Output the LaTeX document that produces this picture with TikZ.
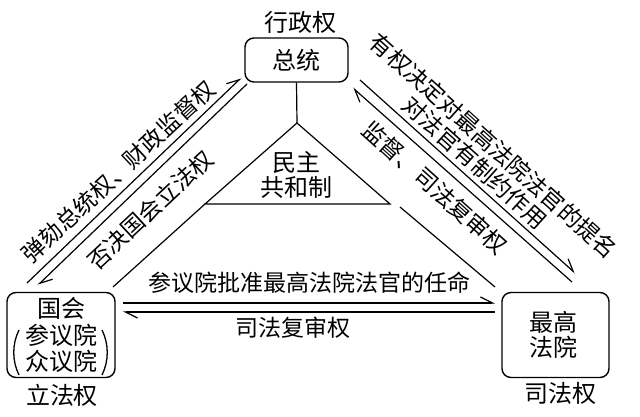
\documentclass[tikz,border=0pt]{standalone}
\usepackage{fontspec}
\newfontfamily\cjk{Noto Sans CJK SC}
\usetikzlibrary{arrows.meta}
\begin{document}
\begin{tikzpicture}[x=1pt,y=-1pt,
  box/.style={draw, line width=1.4pt, rounded corners=9pt, inner sep=0pt},
  lbl/.style={font=\cjk\fontsize{23}{25}\selectfont, inner sep=0pt},
  big/.style={font=\cjk\fontsize{24}{26.5}\selectfont, inner sep=0pt, align=center},
  ln/.style={line width=1.2pt},
  arr/.style={ln, -{Straight Barb[harpoon, length=12pt, width=12pt, line width=1.2pt]}},
  paren/.style={line width=1.3pt}
]
\useasboundingbox (0,0) rectangle (640,416);
\fill[white] (0,0) rectangle (640,416);
% boxes
\node[box, big, minimum width=103pt, minimum height=44pt] (pres) at (296.5,60) {总统};
\node[box, big, minimum width=108pt, minimum height=85pt] (cong) at (61,335) {国会\\参议院\\众议院};
\node[box, minimum width=107pt, minimum height=85pt] (court) at (555.5,335) {};
\node[big, font=\cjk\fontsize{24}{25}\selectfont] (courtt) at (553,335) {最高\\法院};
% titles
\node[big] (exec) at (300,22) {行政权};
\node[big] (leg) at (62,395) {立法权};
\node[big] (jud) at (560,393) {司法权};
% parentheses
\draw[paren] (19,330) .. controls (12,344) and (12,361) .. (19,375);
\draw[paren] (102,330) .. controls (109,344) and (109,361) .. (102,375);
% triangle
\coordinate (apex) at (297,123);
\coordinate (tl) at (205,204);
\coordinate (tr) at (390,204);
\draw[ln, line join=miter] (apex) -- (tl) -- (tr) -- cycle;
\draw[ln] (pres.south) -- (apex);
\node[big, font=\cjk\fontsize{24}{24.5}\selectfont] (demo) at (296,175) {民主\\共和制};
\coordinate (el) at (113,287);
\draw[ln] (tl) -- (el);
\coordinate (er0) at (400,207);
\coordinate (er) at (495,287);
\draw[ln] (er0) -- (er);
% arrows
\coordinate (lo1) at (27,283); \coordinate (lo2) at (241,78);
\draw[arr] (lo1) -- (lo2);
\coordinate (li1) at (247,84); \coordinate (li2) at (38,285);
\draw[arr] (li1) -- (li2);
\coordinate (ro1) at (360,80); \coordinate (ro2) at (575,273);
\draw[arr] (ro1) -- (ro2);
\coordinate (ri1) at (572,282); \coordinate (ri2) at (353,88);
\draw[arr] (ri1) -- (ri2);
\coordinate (bu1) at (123,303); \coordinate (bu2) at (495,303);
\draw[arr] (bu1) -- (bu2);
\coordinate (bl1) at (495,312); \coordinate (bl2) at (123,312);
\draw[arr] (bl1) -- (bl2);
% labels
\node[lbl, rotate=43] (l1) at (118.5,171.5) {弹劾总统权、财政监督权};
\node[lbl, rotate=43] (l2) at (150,210) {否决国会立法权};
\node[lbl, rotate=-42] (r1) at (493.5,146) {有权决定对最高法院法官的提名};
\node[lbl, rotate=-42] (r2) at (475,162.5) {对法官有制约作用};
\node[lbl, rotate=-42] (r3) at (435,187.5) {监督、司法复审权};
\node[lbl] (b1) at (309,283) {参议院批准最高法院法官的任命};
\node[lbl] (b2) at (293,328) {司法复审权};
\end{tikzpicture}
\end{document}
